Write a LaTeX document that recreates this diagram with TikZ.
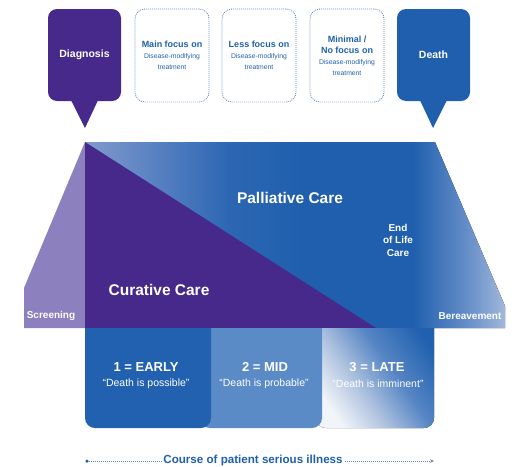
\documentclass[tikz,border=0pt]{standalone}
\usepackage{fontspec}
\setmainfont{Liberation Sans}
\usetikzlibrary{arrows.meta}

% palette
\definecolor{cpurple}{HTML}{46298A}
\definecolor{clilac}{HTML}{8C80BE}
\definecolor{cblue}{HTML}{1F5FAE}
\definecolor{ctext}{HTML}{1F60AD}
\definecolor{cdot}{HTML}{6688C2}
\definecolor{cearly}{HTML}{2161AF}
\definecolor{cmid}{HTML}{5A8BC7}
\definecolor{pa}{HTML}{819ACC}
\definecolor{pb}{HTML}{5A82C2}
\definecolor{pc}{HTML}{2D67B3}
\definecolor{pd}{HTML}{6C92CA}
\definecolor{pe}{HTML}{A2B8DA}
\definecolor{la}{HTML}{F1F4F9}
\definecolor{lb}{HTML}{AEC2DF}
\definecolor{lc}{HTML}{5585C4}
\definecolor{ld}{HTML}{2060AE}

% palliative band: light at both ends, deep blue in the middle
\pgfdeclarehorizontalshading{palliative}{100bp}{%
  color(0bp)=(pa); color(25bp)=(pa); color(33bp)=(pb); color(42bp)=(pc);
  color(51bp)=(cblue); color(64bp)=(cblue); color(71bp)=(pd);
  color(75bp)=(pe); color(100bp)=(pe)}
% late stage: pale at the lower left, blue at the upper right
\pgfdeclarehorizontalshading{latestage}{100bp}{%
  color(0bp)=(la); color(25bp)=(la); color(40bp)=(lb); color(56bp)=(lc);
  color(75bp)=(ld); color(100bp)=(ld)}

\newcommand\fsz[2]{\fontsize{#1}{#2}\selectfont}

\tikzset{
  callout/.style={rounded corners=9pt, minimum width=73pt, minimum height=92pt,
    inner sep=0pt, text=white, font=\fsz{10.5}{12}\bfseries},
  focusbox/.style={draw=cdot, line width=0.9pt, dash pattern=on 0.9pt off 1.1pt,
    rounded corners=10pt, minimum width=74pt, minimum height=93pt,
    inner sep=0pt, align=center, text=ctext},
  bigwhite/.style={text=white, font=\fsz{15.5}{18}\bfseries},
  sidelabel/.style={text=white, font=\fsz{10}{12}\bfseries, inner sep=0pt},
  stagetitle/.style={text=white, font=\fsz{13}{15}\bfseries, inner sep=0pt},
  stagequote/.style={text=white, font=\fsz{10.5}{12}, inner sep=0pt},
}

\newcommand\focustext[1]{{\fsz{9}{11}\bfseries #1}\\[-1pt]{\fsz{6.8}{8.5}Disease-modifying}\\[-1pt]{\fsz{6.8}{8.5}treatment}}

\begin{document}
\begin{tikzpicture}[x=1pt,y=-1pt]
\useasboundingbox (0,0) rectangle (521,466);

% ---- care band ----
\fill[shading=palliative] (85,142) -- (435,142) -- (505,306) -- (505,328) -- (85,328) -- cycle;
\fill[clilac] (85,142) -- (24,288) -- (24,328) -- (85,328) -- cycle;
\fill[cpurple] (85,142) -- (376,328) -- (85,328) -- cycle;

\node[bigwhite] (palliative) at (290,198) {Palliative Care};
\node[bigwhite] (curative) at (159,290) {Curative Care};
\node[text=white, font=\fsz{10}{12.5}\bfseries, align=center] (eol) at (398,240) {End\\of Life\\Care};
\node[sidelabel] (screening) at (51,316) {Screening};
\node[sidelabel] (bereavement) at (470,316) {Bereavement};

% ---- stages ----
\begin{scope}
  \clip (310,328) rectangle (440,440);
  \fill[shading=latestage, shading angle=35, rounded corners=10pt] (316,310) rectangle (434,428);
\end{scope}
\begin{scope}
  \clip (195,328) rectangle (330,440);
  \fill[cmid, rounded corners=10pt] (200,310) rectangle (322,428);
\end{scope}
\begin{scope}
  \clip (80,328) rectangle (220,440);
  \fill[cearly, rounded corners=10pt] (85,310) rectangle (211,428);
\end{scope}

\node[stagetitle] (early) at (146,367) {1 = EARLY};
\node[stagequote] (earlyq) at (146,384) {``Death is possible''};
\node[stagetitle] (mid) at (265,367) {2 = MID};
\node[stagequote] (midq) at (264,384) {``Death is probable''};
\node[stagetitle] (late) at (377,367) {3 = LATE};
\node[stagequote] (lateq) at (378,384) {``Death is imminent''};

% ---- milestones ----
\node[callout, fill=cpurple] (diagnosis) at (84.5,55) {Diagnosis};
\coordinate (diagtip) at (85,128);
\fill[cpurple] ([xshift=-14pt,yshift=2pt]diagnosis.south) -- ([xshift=14pt,yshift=2pt]diagnosis.south) -- (diagtip) -- cycle;

\node[callout, fill=cblue] (death) at (433.5,55) {Death};
\coordinate (deathtip) at (433,128);
\fill[cblue] ([xshift=-14pt,yshift=2pt]death.south) -- ([xshift=14pt,yshift=2pt]death.south) -- (deathtip) -- cycle;

\node[focusbox] (mainfocus) at (172,55.5) {\focustext{Main focus on}};
\node[focusbox] (lessfocus) at (259,55.5) {\focustext{Less focus on}};
\node[focusbox] (nofocus) at (347,55.5) {{\fsz{9}{11}\bfseries Minimal /}\\[-1pt]\focustext{No focus on}};

% ---- time axis ----
\node[circle, fill=ctext, inner sep=0pt, minimum size=3.5pt] (coursestart) at (87,461) {};
\coordinate (courseend) at (434,461);
\draw[cdot, line width=0.8pt, dash pattern=on 0.8pt off 1.2pt, -{Stealth[length=4pt,width=3.5pt]}] (coursestart) -- (courseend);
\node[fill=white, text=ctext, font=\fsz{11.6}{14}\bfseries, inner xsep=1pt, inner ysep=0pt] (course) at (253,460) {Course of patient serious illness};
\end{tikzpicture}
\end{document}
